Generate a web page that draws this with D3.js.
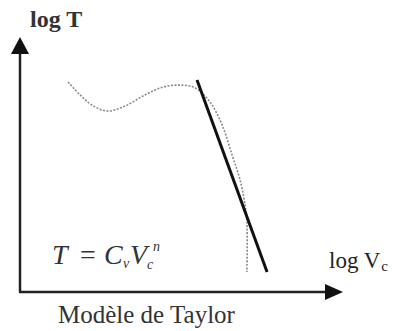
<!DOCTYPE html>
<html>
<head>
<meta charset="utf-8">
<script src="https://cdn.jsdelivr.net/npm/d3@7"></script>
<style>
  body { margin: 0; background: #fff; }
  text { font-family: "Liberation Serif", "DejaVu Serif", serif; }
</style>
</head>
<body>
<div id="chart"></div>
<script>
// dotted tool-life curve (log V, log T)
const curveLogV = [15.5, 19.4, 23.2, 28.1, 33.9, 40.3, 46.1, 51.6, 56.5, 61.3, 65.2, 68.4, 71.0, 72.6, 73.2, 73.2];
const curveLogT = [83.3, 78.2, 74.2, 71.8, 73.8, 78.2, 81.3, 82.1, 81.0, 75.4, 66.3, 54.4, 44.4, 34.5, 27.8, 7.9];
// Taylor straight line
const taylorLogV = [57.1, 79.7];
const taylorLogT = [84.1, 7.9];

const labels = { yAxis: "log T", xAxis: "log V", caption: "Modèle de Taylor" };

const W = 393, H = 331;
const svg = d3.select("#chart").append("svg").attr("width", W).attr("height", H);

const x = d3.scaleLinear().domain([0, 100]).range([20, 330]);
const y = d3.scaleLinear().domain([0, 100]).range([292, 40]);

// axes with arrows
svg.append("line")
  .attr("x1", x(0)).attr("y1", y(0)).attr("x2", x(0)).attr("y2", 52)
  .attr("stroke", "#222").attr("stroke-width", 2.5);
svg.append("path")
  .attr("d", `M${x(0)},37 L${x(0) - 9},54 L${x(0) + 9},54 Z`)
  .attr("fill", "#111");
svg.append("line")
  .attr("x1", x(0) - 1).attr("y1", y(0)).attr("x2", 327).attr("y2", y(0))
  .attr("stroke", "#222").attr("stroke-width", 2.5);
svg.append("path")
  .attr("d", `M343,${y(0)} L325,${y(0) - 8} L325,${y(0) + 8} Z`)
  .attr("fill", "#111");

// dotted curve
const pts = curveLogV.map((v, i) => [v, curveLogT[i]]);
svg.append("path")
  .datum(pts)
  .attr("d", d3.line().x(d => x(d[0])).y(d => y(d[1])).curve(d3.curveCatmullRom.alpha(0.5)))
  .attr("fill", "none")
  .attr("stroke", "#888")
  .attr("stroke-width", 1.6)
  .attr("stroke-dasharray", "2,1.5");

// Taylor line
svg.append("line")
  .attr("x1", x(taylorLogV[0])).attr("y1", y(taylorLogT[0]))
  .attr("x2", x(taylorLogV[1])).attr("y2", y(taylorLogT[1]))
  .attr("stroke", "#111").attr("stroke-width", 3);

// labels
svg.append("text")
  .attr("x", 30).attr("y", 27)
  .style("font-size", "24px").style("font-weight", "bold")
  .attr("fill", "#333")
  .text(labels.yAxis);

const xl = svg.append("text")
  .attr("x", 329).attr("y", 268)
  .style("font-size", "23px")
  .attr("fill", "#222");
xl.append("tspan").text(labels.xAxis);
xl.append("tspan").attr("dx", 1).attr("dy", 3).style("font-size", "15px").text("c");

svg.append("text")
  .attr("x", 58).attr("y", 323)
  .style("font-size", "25px")
  .attr("fill", "#333")
  .text(labels.caption);

// formula T = Cv Vc^n
const f = svg.append("text")
  .attr("y", 264)
  .style("font-size", "28px").style("font-style", "italic")
  .attr("fill", "#333");
f.append("tspan").attr("x", 52).text("T");
f.append("tspan").attr("x", 80).style("font-style", "normal").text("=");
f.append("tspan").attr("x", 104).text("C");
f.append("tspan").attr("x", 123).attr("dy", 4).style("font-size", "14px").text("v");
f.append("tspan").attr("x", 130).attr("dy", -4).text("V");
f.append("tspan").attr("x", 147).attr("dy", 5).style("font-size", "14px").text("c");
f.append("tspan").attr("x", 153).attr("dy", -18).style("font-size", "14px").text("n");
</script>
</body>
</html>
